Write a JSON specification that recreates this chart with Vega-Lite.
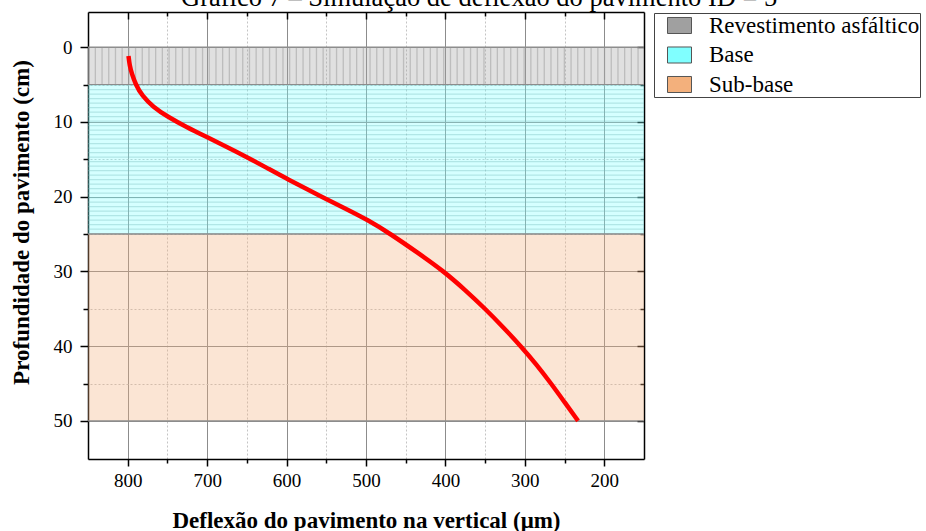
{
  "$schema": "https://vega.github.io/schema/vega-lite/v6.json",
  "width": 556,
  "height": 447,
  "autosize": {"type": "none"},
  "padding": {"left": 88, "top": 12, "right": 282, "bottom": 72},
  "background": "white",
  "config": {"font": "Liberation Serif", "view": {"stroke": null}},
  "title": {
    "text": "Gráfico 7 – Simulação de deflexão do pavimento ID = 5",
    "font": "Liberation Serif",
    "fontSize": 26.5,
    "fontWeight": "normal",
    "color": "black",
    "anchor": "start",
    "frame": "group",
    "dx": 93,
    "dy": 226.5,
    "offset": 1,
    "baseline": "alphabetic"
  },
  "datasets": {
    "camadas": [
      {"camada": "Revestimento asfáltico", "topo": 0, "fundo": 5},
      {"camada": "Base", "topo": 5, "fundo": 25},
      {"camada": "Sub-base", "topo": 25, "fundo": 50}
    ],
    "curva": [
      {"deflexao": 799, "profundidade": 1.2},
      {"deflexao": 797.5, "profundidade": 2.5},
      {"deflexao": 795, "profundidade": 3.5},
      {"deflexao": 790, "profundidade": 5.0},
      {"deflexao": 782, "profundidade": 6.5},
      {"deflexao": 768, "profundidade": 8.0},
      {"deflexao": 750, "profundidade": 9.3},
      {"deflexao": 726, "profundidade": 10.7},
      {"deflexao": 701, "profundidade": 12.0},
      {"deflexao": 676, "profundidade": 13.3},
      {"deflexao": 650, "profundidade": 14.7},
      {"deflexao": 624, "profundidade": 16.2},
      {"deflexao": 600, "profundidade": 17.6},
      {"deflexao": 556, "profundidade": 20.0},
      {"deflexao": 526, "profundidade": 21.6},
      {"deflexao": 498, "profundidade": 23.1},
      {"deflexao": 469, "profundidade": 25.0},
      {"deflexao": 435, "profundidade": 27.5},
      {"deflexao": 402, "profundidade": 30.0},
      {"deflexao": 375, "profundidade": 32.5},
      {"deflexao": 350, "profundidade": 35.0},
      {"deflexao": 327, "profundidade": 37.5},
      {"deflexao": 305, "profundidade": 40.0},
      {"deflexao": 285, "profundidade": 42.5},
      {"deflexao": 267, "profundidade": 45.0},
      {"deflexao": 250, "profundidade": 47.5},
      {"deflexao": 233, "profundidade": 50.0}
    ]
  },
  "layer": [
    {
      "data": {"name": "camadas"},
      "mark": {"type": "rect", "fillOpacity": 0.33, "strokeWidth": 0},
      "encoding": {
        "x": {
          "datum": 850,
          "type": "quantitative",
          "scale": {"domain": [150, 850], "reverse": true, "nice": false, "zero": false},
          "axis": {
            "orient": "bottom",
            "values": [800, 750, 700, 650, 600, 550, 500, 450, 400, 350, 300, 250, 200],
            "labelExpr": "datum.value % 100 === 0 ? datum.label : ''",
            "labelFontSize": 19,
            "labelFont": "Liberation Serif",
            "labelColor": "black",
            "labelPadding": 5,
            "labelFlush": false,
            "labelOverlap": false,
            "labelBound": false,
            "title": "Deflexão do pavimento na vertical (μm)",
            "titleFont": "Liberation Serif",
            "titleFontSize": 23,
            "titleFontWeight": "bold",
            "titleColor": "black",
            "titleBaseline": "alphabetic",
            "titleY": 68,
            "domainColor": "black",
            "domainWidth": 1.5,
            "tickColor": "black",
            "tickWidth": 1.5,
            "tickSize": {"condition": {"test": "datum.value % 100 === 0", "value": 7}, "value": 4},
            "grid": true,
            "gridWidth": 1,
            "gridColor": {"condition": {"test": "datum.value % 100 === 0", "value": "#8c8c8c"}, "value": "#c4c4c4"},
            "gridDash": {"condition": {"test": "datum.value % 100 === 0", "value": []}, "value": [2, 2]}
          }
        },
        "x2": {"datum": 150},
        "y": {
          "field": "topo",
          "type": "quantitative",
          "scale": {"domain": [-4.7, 55.1], "reverse": true, "nice": false, "zero": false},
          "axis": {
            "orient": "left",
            "values": [0, 5, 10, 15, 20, 25, 30, 35, 40, 45, 50],
            "labelExpr": "datum.value % 10 === 0 ? datum.label : ''",
            "labelFontSize": 19,
            "labelFont": "Liberation Serif",
            "labelColor": "black",
            "labelPadding": 8,
            "labelOverlap": false,
            "labelBound": false,
            "title": "Profundidade do pavimento (cm)",
            "titleFont": "Liberation Serif",
            "titleFontSize": 23,
            "titleFontWeight": "bold",
            "titleColor": "black",
            "titleAngle": -90,
            "titleBaseline": "alphabetic",
            "titleAlign": "center",
            "titleX": -60,
            "titleY": 210,
            "domainColor": "black",
            "domainWidth": 1.5,
            "tickColor": "black",
            "tickWidth": 1.5,
            "tickSize": {"condition": {"test": "datum.value % 10 === 0", "value": 8}, "value": 5},
            "grid": true,
            "gridWidth": 1,
            "gridColor": {"condition": {"test": "datum.value % 10 === 0", "value": "#8c8c8c"}, "value": "#c4c4c4"},
            "gridDash": {"condition": {"test": "datum.value % 10 === 0", "value": []}, "value": [2, 2]}
          }
        },
        "y2": {"field": "fundo"},
        "color": {
          "field": "camada",
          "type": "nominal",
          "scale": {
            "domain": ["Revestimento asfáltico", "Base", "Sub-base"],
            "range": ["#a0a0a0", "#80ffff", "#f3b07c"]
          },
          "legend": {
            "orient": "none",
            "legendX": 566,
            "legendY": 1,
            "title": null,
            "labelFont": "Liberation Serif",
            "labelFontSize": 23,
            "labelColor": "black",
            "labelLimit": 400,
            "labelOffset": 17,
            "symbolType": "M-1,-0.667H1V0.667H-1Z",
            "symbolSize": 576,
            "symbolStrokeColor": "#555555",
            "symbolStrokeWidth": 1,
            "symbolOpacity": 1,
            "symbolOffset": 13,
            "strokeColor": "#444444",
            "fillColor": "white",
            "padding": 0,
            "rowPadding": 4.5
          }
        }
      }
    },
    {
      "data": {"values": [{}]},
      "mark": {"type": "rule", "color": "#a0a0a0", "strokeOpacity": 0.55, "strokeWidth": 37.4, "strokeDash": [1.3, 5.4], "strokeCap": "butt"},
      "encoding": {
        "x": {"datum": 850, "type": "quantitative", "scale": {"domain": [150, 850], "reverse": true, "nice": false, "zero": false}, "axis": null},
        "x2": {"datum": 150},
        "y": {"datum": 2.5, "type": "quantitative", "scale": {"domain": [-4.7, 55.1], "reverse": true, "nice": false, "zero": false}, "axis": null}
      }
    },
    {
      "data": {"values": [{}]},
      "mark": {"type": "rule", "color": "#70b8b8", "strokeOpacity": 0.35, "strokeWidth": 556, "strokeDash": [1.2, 3.3], "strokeCap": "butt"},
      "encoding": {
        "x": {"datum": 500, "type": "quantitative", "scale": {"domain": [150, 850], "reverse": true, "nice": false, "zero": false}, "axis": null},
        "y": {"datum": 5, "type": "quantitative", "scale": {"domain": [-4.7, 55.1], "reverse": true, "nice": false, "zero": false}, "axis": null},
        "y2": {"datum": 25}
      }
    },
    {
      "data": {"name": "camadas"},
      "mark": {"type": "rule", "color": "#8c8c8c", "strokeWidth": 1.2},
      "encoding": {
        "y": {
          "field": "topo",
          "type": "quantitative",
          "scale": {"domain": [-4.7, 55.1], "reverse": true, "nice": false, "zero": false},
          "axis": null
        }
      }
    },
    {
      "data": {"name": "camadas"},
      "mark": {"type": "rule", "color": "#8c8c8c", "strokeWidth": 1.2},
      "encoding": {
        "y": {
          "field": "fundo",
          "type": "quantitative",
          "scale": {"domain": [-4.7, 55.1], "reverse": true, "nice": false, "zero": false},
          "axis": null
        }
      }
    },
    {
      "data": {"name": "curva"},
      "mark": {"type": "line", "color": "#ff0000", "strokeWidth": 4.5, "interpolate": "basis", "strokeCap": "butt"},
      "encoding": {
        "x": {
          "field": "deflexao",
          "type": "quantitative",
          "scale": {"domain": [150, 850], "reverse": true, "nice": false, "zero": false},
          "axis": {
            "orient": "top",
            "values": [800, 750, 700, 650, 600, 550, 500, 450, 400, 350, 300, 250, 200],
            "labels": false,
            "title": null,
            "grid": false,
            "domainColor": "black",
            "domainWidth": 1.5,
            "tickColor": "black",
            "tickWidth": 1.5,
            "tickSize": {"condition": {"test": "datum.value % 100 === 0", "value": -7}, "value": -4}
          }
        },
        "y": {
          "field": "profundidade",
          "type": "quantitative",
          "scale": {"domain": [-4.7, 55.1], "reverse": true, "nice": false, "zero": false},
          "axis": {
            "orient": "right",
            "values": [0, 5, 10, 15, 20, 25, 30, 35, 40, 45, 50],
            "labels": false,
            "title": null,
            "grid": false,
            "domainColor": "black",
            "domainWidth": 1.5,
            "tickColor": "black",
            "tickWidth": 1.5,
            "tickSize": {"condition": {"test": "datum.value % 10 === 0", "value": -7}, "value": -4}
          }
        },
        "order": {"field": "profundidade"}
      }
    }
  ],
  "resolve": {"axis": {"x": "independent", "y": "independent"}}
}
